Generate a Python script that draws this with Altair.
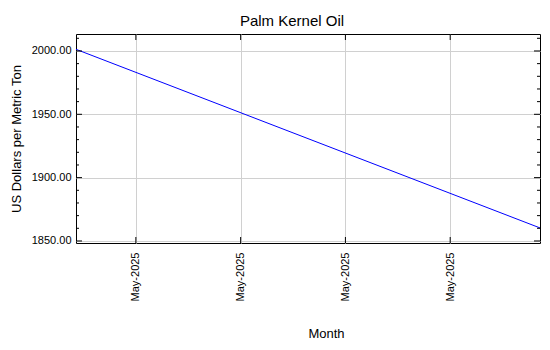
import altair as alt
import pandas as pd

# ---- data ----
months = ["2025-05-01", "2025-06-01"]
prices = [2001.3, 1860.3]
y_major = [1850, 1900, 1950, 2000]
y_minor = [1860, 1870, 1880, 1890, 1910, 1920, 1930, 1940,
           1960, 1970, 1980, 1990, 2010]
x_tick_dates = ["2025-05-05", "2025-05-12", "2025-05-19", "2025-05-26"]
y_domain = [1848.4, 2013.4]

df = pd.DataFrame({"month": months, "price": prices})
df_ymaj = pd.DataFrame({"v": y_major})
df_ymin = pd.DataFrame({"v": y_minor})
df_x = pd.DataFrame({"d": x_tick_dates})


def dt(s):
    t = pd.Timestamp(s)
    return alt.DateTime(year=t.year, month=t.month, date=t.day, utc=True)


x_vals = [dt(s) for s in x_tick_dates]
xs = alt.Scale(type="utc", domain=[dt(months[0]), dt(months[-1])], nice=False)
ys = alt.Scale(domain=y_domain, nice=False, zero=False)

FONT = "Liberation Sans"
W, H = 464, 209

main = alt.Chart(df).mark_line(color="#0000ff", strokeWidth=1).encode(
    x=alt.X(
        "month:T",
        scale=xs,
        axis=alt.Axis(
            values=x_vals, labelExpr="utcFormat(datum.value, '%b-%Y')", labelAngle=270,
            ticks=False, domain=False, grid=True, gridColor="#d0d0d0",
            labelPadding=9, labelFontSize=11, labelColor="black", labelFont=FONT,
            title="Month", titleFont=FONT, titleFontSize=13, titleFontWeight="normal",
            titleColor="black", titleX=250, titleY=94, titleBaseline="alphabetic",
            titleAlign="center", labelOverlap=False,
        ),
    ),
    y=alt.Y(
        "price:Q",
        scale=ys,
        axis=alt.Axis(
            values=y_major, format=".2f", ticks=False, domain=False, grid=True,
            gridColor="#d0d0d0", labelPadding=5, labelFontSize=11, labelColor="black",
            labelFont=FONT, title="US Dollars per Metric Ton", titleFont=FONT,
            titleFontSize=13, titleFontWeight="normal", titleColor="black",
            titleAngle=270, titleX=-55.5, titleY=104.5, titleBaseline="alphabetic",
            titleAlign="center",
        ),
    ),
)


def ytick(data, x0, x1):
    return alt.Chart(data).mark_rule(color="black", strokeWidth=1).encode(
        y=alt.Y("v:Q", scale=ys, axis=None),
        x=alt.value(x0), x2=alt.value(x1),
    )


def xtick(y0, y1):
    return alt.Chart(df_x).mark_rule(color="black", strokeWidth=1).encode(
        x=alt.X("d:T", scale=xs, axis=None),
        y=alt.value(y0), y2=alt.value(y1),
    )


layers = [
    main,
    ytick(df_ymaj, 0, 6),
    ytick(df_ymin, 0, 3),
    ytick(df_ymaj, W, W - 6),
    ytick(df_ymin, W, W - 3),
    xtick(H, H - 6),
    xtick(0, 6),
]

chart = (
    alt.layer(*layers)
    .resolve_axis(x="independent", y="independent")
    .properties(
        width=W,
        height=H,
        padding={"left": 76, "top": 34, "right": 10, "bottom": 107},
        autosize=alt.AutoSizeParams(type="none"),
        title=alt.TitleParams(
            "Palm Kernel Oil", font=FONT, fontSize=15, fontWeight="normal",
            color="black", anchor="middle", dx=-16, offset=5,
        ),
        background="white",
    )
    .configure_view(stroke="black", strokeWidth=1)
)

chart.save("out.html", embed_options={"renderer": "svg", "actions": False})
